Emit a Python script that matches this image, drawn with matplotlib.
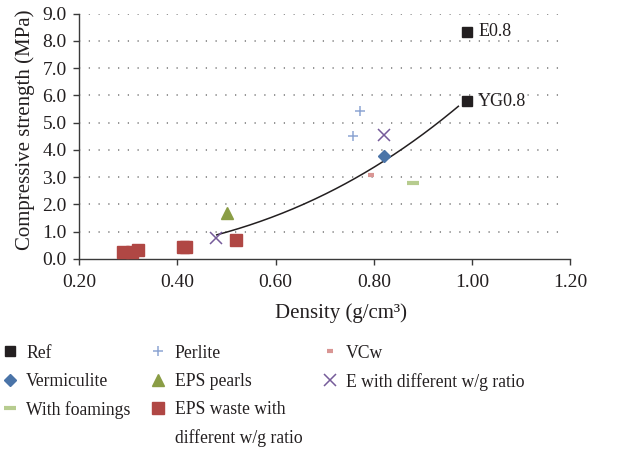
import matplotlib
matplotlib.use("Agg")
import matplotlib.pyplot as plt
import numpy as np
from matplotlib.lines import Line2D

plt.rcParams["font.family"] = ["Liberation Serif", "DejaVu Serif"]

# Series data: (density g/cm3, compressive strength MPa)
ref_x = [0.99, 0.99]
ref_y = [8.33, 5.78]
ref_labels = ["E0.8", "YG0.8"]

vermiculite_x = [0.82]
vermiculite_y = [3.79]

foamings_x = [0.88]
foamings_y = [2.77]

perlite_x = [0.771, 0.757]
perlite_y = [5.42, 4.52]

eps_pearls_x = [0.50]
eps_pearls_y = [1.70]

eps_waste_x = [0.29, 0.307, 0.319, 0.411, 0.418, 0.52]
eps_waste_y = [0.26, 0.27, 0.33, 0.44, 0.42, 0.71]

vcw_x = [0.795]
vcw_y = [3.06]

e_wg_x = [0.82, 0.479]
e_wg_y = [4.56, 0.76]

# Power-law trend y = a * x^b drawn over the density range shown
trend_a = 6.03
trend_b = 2.62
trend_range = (0.48, 0.972)

x_ticks = [0.20, 0.40, 0.60, 0.80, 1.00, 1.20]
y_ticks = [0.0, 1.0, 2.0, 3.0, 4.0, 5.0, 6.0, 7.0, 8.0, 9.0]

c_ref = "#231f20"
c_verm = "#4a74a8"
c_foam = "#b7cc8f"
c_perl = "#8ea6d3"
c_pearl = "#8a9d45"
c_waste = "#b04744"
c_vcw = "#d99694"
c_e = "#765b9a"
c_text = "#231f20"

fig = plt.figure(figsize=(6.24, 4.51), dpi=100)
ax = fig.add_axes([0.127, 0.426, 0.787, 0.544])

ax.set_xlim(0.2, 1.2)
ax.set_ylim(0.0, 9.0)
ax.set_xticks(x_ticks)
ax.set_xticklabels([f"{v:.2f}" for v in x_ticks])
ax.set_yticks(y_ticks)
ax.set_yticklabels([f"{v:.1f}" for v in y_ticks])

for yv in y_ticks[1:]:
    ax.plot([0.2, 1.185], [yv, yv], color="#8c8c8c", lw=1.3,
            linestyle=(0, (0.7, 4.7)), zorder=0.5)

ax.spines["top"].set_visible(False)
ax.spines["right"].set_visible(False)
for s in ("left", "bottom"):
    ax.spines[s].set_color("#3a3a3a")
    ax.spines[s].set_linewidth(1.0)
ax.tick_params(axis="both", direction="out", length=4, width=1.0,
               color="#3a3a3a", labelsize=14, labelcolor=c_text)
ax.tick_params(axis="x", pad=7)
ax.tick_params(axis="y", pad=5)

ax.set_xlabel("Density (g/cm³)", fontsize=15, color=c_text)
ax.set_ylabel("Compressive strength (MPa)", fontsize=15, color=c_text)
ax.xaxis.set_label_coords(0.532, -0.18)
ax.yaxis.set_label_coords(-0.09, 0.527)

# Markers
h_ref, = ax.plot(ref_x, ref_y, ls="none", marker="s", ms=7.4, color=c_ref,
                 zorder=3)
h_verm, = ax.plot(vermiculite_x, vermiculite_y, ls="none", marker="D", ms=6.3,
                  color=c_verm, zorder=3)
h_foam, = ax.plot(foamings_x, foamings_y, ls="none", marker="_", ms=9,
                  mew=3, color=c_foam, zorder=3)
h_perl, = ax.plot(perlite_x, perlite_y, ls="none", marker="+", ms=7.5,
                  mew=1.1, color=c_perl, zorder=3)
h_pearl, = ax.plot(eps_pearls_x, eps_pearls_y, ls="none", marker="^", ms=8.5,
                   color=c_pearl, zorder=3)
h_waste, = ax.plot(eps_waste_x, eps_waste_y, ls="none", marker="s", ms=8.6,
                   color=c_waste, zorder=3)
h_vcw, = ax.plot(vcw_x, vcw_y, ls="none", marker="_", ms=5, mew=3,
                 color=c_vcw, zorder=3)
h_e, = ax.plot(e_wg_x, e_wg_y, ls="none", marker="x", ms=8, mew=1.1,
               color=c_e, zorder=3)

for x, y, t in zip(ref_x, ref_y, ref_labels):
    ax.annotate(t, (x, y), xytext=(8, 0), textcoords="offset points",
                va="center", ha="left", fontsize=13, color=c_text)

# Trend line
tx = np.linspace(trend_range[0], trend_range[1], 200)
ax.plot(tx, trend_a * tx ** trend_b, color=c_text, lw=1.1, zorder=2)

blank = Line2D([], [], ls="none", marker="none")
handles = [h_ref, h_verm, h_foam, blank,
           h_perl, h_pearl, h_waste, blank,
           h_vcw, h_e, blank, blank]
labels = ["Ref", "Vermiculite", "With foamings", "",
          "Perlite", "EPS pearls", "EPS waste with", "different w/g ratio",
          "VCw", "E with different w/g ratio", "", ""]
leg = fig.legend(handles, labels, ncol=3, loc="upper left",
                 bbox_to_anchor=(0.002, 0.236), frameon=False,
                 fontsize=12.7, handlelength=1.0, handletextpad=0.42,
                 columnspacing=1.07, labelspacing=0.63, borderpad=0.0,
                 borderaxespad=0.0, labelcolor=c_text)

fig.savefig("out.png", dpi=100)
